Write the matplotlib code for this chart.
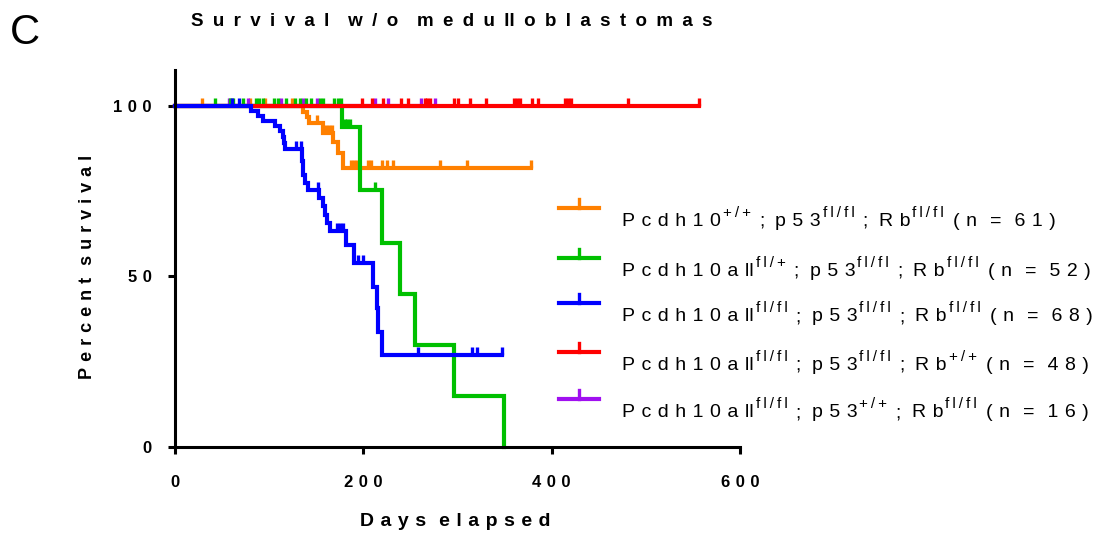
import numpy as np
import matplotlib
matplotlib.use("Agg")
import matplotlib.pyplot as plt
from matplotlib.lines import Line2D

plt.rcParams["font.family"] = ["Liberation Sans", "DejaVu Sans"]

# Kaplan-Meier Stufen (Tag, Prozent), Ende der Kurve und zensierte Tage

orange_t = [0, 136, 140, 142, 157.5, 168, 173, 178]
orange_s = [100, 98.3, 96.7, 95.0, 92.0, 89.3, 86.2, 81.8]
orange_ende = 378
orange_zens = [29, 80, 96, 124, 151, 160, 164, 167, 187, 190, 193, 205, 208,
               220, 225, 232, 281, 310, 378]

gruen_t = [0, 177, 196.5, 219.5, 239, 255, 296, 349]
gruen_s = [100, 93.8, 75.4, 59.9, 44.9, 30.0, 15.0, 0]
gruen_ende = 349
gruen_zens = [43, 58, 62, 72, 86, 89, 93, 105, 109, 118, 127, 133, 139, 144,
              154, 157, 169, 173, 176, 180, 183, 186, 212]

blau_t = [0, 81, 88, 93, 106, 111, 115, 116, 117, 134.5, 136, 138, 141.5, 153,
          157, 159, 161, 165, 182, 190, 210.5, 214, 215.5, 219.5]
blau_s = [100, 98.5, 97.0, 95.5, 94.1, 92.6, 91.0, 89.0, 87.2, 83.7, 79.8, 77.3,
          75.2, 72.9, 70.5, 68.0, 65.8, 63.4, 59.2, 53.9, 47.0, 40.7, 33.8, 27.0]
blau_ende = 347
blau_zens = [61, 68, 128, 133.5, 151.5, 172, 175, 178, 194, 200, 258, 315, 321, 347]

rot_t = [0]
rot_s = [100]
rot_ende = 556
rot_zens = [199, 209, 221, 240, 247, 265, 268, 271, 296, 300, 313, 330, 360,
            363, 366, 379, 385, 414, 417, 420, 481, 556]

lila_t = [0]
lila_s = [100]
lila_ende = 276
lila_zens = [57, 77, 113, 136, 151, 212, 226, 261, 276]

x_ticks = [0, 200, 400, 600]
y_ticks = [0, 50, 100]

# Legende: Genotypen je Gruppe
leg_pcdh = ["Pcdh10", "Pcdh10all", "Pcdh10all", "Pcdh10all", "Pcdh10all"]
leg_pcdh_hoch = ["+/+", "fl/+", "fl/fl", "fl/fl", "fl/fl"]
leg_p53_hoch = ["fl/fl", "fl/fl", "fl/fl", "fl/fl", "+/+"]
leg_rb_hoch = ["fl/fl", "fl/fl", "fl/fl", "+/+", "fl/fl"]
leg_n = [61, 52, 68, 48, 16]

farben = ["#FF8000", "#00C000", "#0000FF", "#FF0000", "#A010F0"]

gruppen = [
    (orange_t, orange_s, orange_ende, orange_zens),
    (gruen_t, gruen_s, gruen_ende, gruen_zens),
    (blau_t, blau_s, blau_ende, blau_zens),
    (rot_t, rot_s, rot_ende, rot_zens),
    (lila_t, lila_s, lila_ende, lila_zens),
]
# Zeichenreihenfolge wie im Original (blau liegt oben, dann rot)
zorder = [2.0, 2.2, 2.4, 2.3, 2.1]

SP3 = "\u2004"   # three-per-em space
THIN = "\u2009"  # thin space
EN = "\u2002"    # en space


def sperren(text, sep=SP3):
    """Buchstaben sperren wie im Prism-Export (ll bleibt zusammen)."""
    s = (sep * 2).join(sep.join(wort) for wort in text.split(" "))
    return s.replace("l" + sep + "l", "ll")


def stufe(t, s, x):
    idx = np.searchsorted(t, x, side="right") - 1
    return np.asarray(s)[idx]


fig = plt.figure(figsize=(11.01, 5.36), dpi=100)
W, H = 1101, 536
ax = fig.add_axes([175 / W, 89 / H, 565 / W, 377 / H])

lw = 3.0
for (t, s, ende, zens), farbe, z in zip(gruppen, farben, zorder):
    xs = list(t) + [ende]
    ys = list(s) + [s[-1]]
    ax.step(xs, ys, where="post", color=farbe, lw=lw, zorder=z, clip_on=False,
            solid_joinstyle="miter")
    zy = stufe(t, s, zens)
    ax.vlines(zens, zy, zy + 2.4, color=farbe, lw=2.4, zorder=z, clip_on=False)

ax.set_xlim(0, 600)
ax.set_ylim(0, 110.5)
ax.spines["top"].set_visible(False)
ax.spines["right"].set_visible(False)
for seite in ("left", "bottom"):
    ax.spines[seite].set_linewidth(2.2)
ax.set_xticks(x_ticks)
ax.set_xticklabels([sperren(str(v)) for v in x_ticks])
ax.set_yticks(y_ticks)
ax.set_yticklabels([sperren(str(v)) for v in y_ticks])
ax.tick_params(direction="out", length=5, width=2.2, labelsize=12)
ax.tick_params(axis="x", pad=15)
ax.tick_params(axis="y", pad=12)
for lab in ax.get_xticklabels() + ax.get_yticklabels():
    lab.set_fontweight("bold")

fig.text(10 / W, 1 - 33 / H, "C", fontsize=30, ha="left", va="center")
fig.text(452 / W, 1 - 21 / H, sperren("Survival w/o medulloblastomas", EN),
         fontsize=13.5, fontweight="bold", ha="center", va="center")
fig.text(455 / W, 1 - 521 / H, sperren("Days elapsed"), fontsize=14,
         fontweight="bold", ha="center", va="center")
fig.text(88 / W, 1 - 267 / H, sperren("Percent survival"), fontsize=13,
         fontweight="bold", ha="center", va="center", rotation=90)

# Legende von Hand, Text stückweise mit hochgestellten Teilen
renderer = fig.canvas.get_renderer()
zeilen_y = [208, 258, 303, 352, 399]


def schreibe(x, y_base, text, hoch):
    fs, dy = (11, 9) if hoch else (14, 0)
    t = fig.text(x / W, 1 - (y_base - dy) / H, text, fontsize=fs,
                 ha="left", va="baseline")
    return t.get_window_extent(renderer).x1


for i, (y, farbe) in enumerate(zip(zeilen_y, farben)):
    fy = 1 - y / H
    fig.add_artist(Line2D([559 / W, 599 / W], [fy, fy], color=farbe, lw=lw))
    fig.add_artist(Line2D([579 / W, 579 / W], [fy, fy + 9 / H], color=farbe, lw=2.4))
    yb = y + 18
    x = schreibe(622, yb, sperren(leg_pcdh[i]), False)
    x = schreibe(x + 2, yb, sperren(leg_pcdh_hoch[i], THIN), True)
    x = schreibe(x + 8, yb, ";", False)
    x = schreibe(x + 11, yb, sperren("p53"), False)
    x = schreibe(x + 2, yb, sperren(leg_p53_hoch[i], THIN), True)
    x = schreibe(x + 8, yb, ";", False)
    x = schreibe(x + 11, yb, sperren("Rb"), False)
    x = schreibe(x + 2, yb, sperren(leg_rb_hoch[i], THIN), True)
    schreibe(x + 9, yb, sperren(f"(n = {leg_n[i]})"), False)

fig.savefig("out.png", dpi=100)
